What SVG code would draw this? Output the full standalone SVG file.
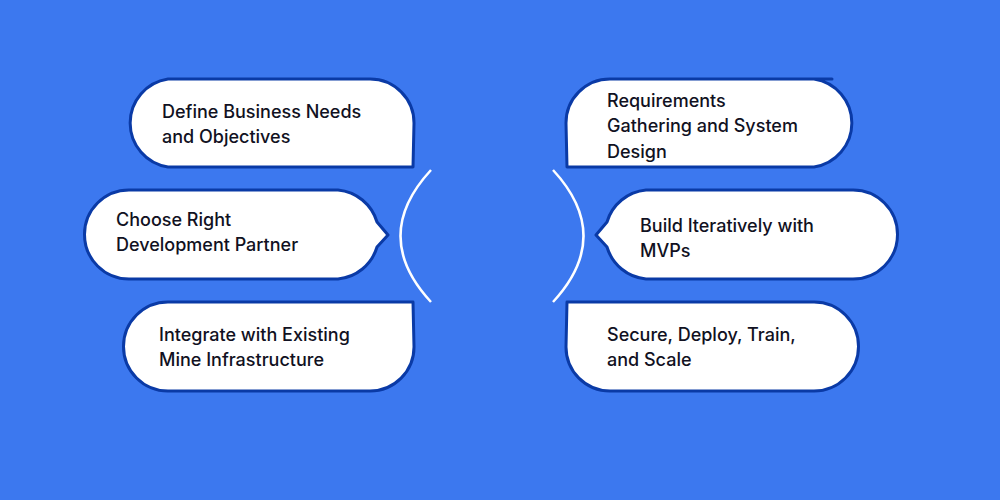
<svg xmlns="http://www.w3.org/2000/svg" width="1000" height="500" viewBox="0 0 1000 500">
<style>
.b{fill:#fff;stroke:#0a3aa6;stroke-width:3;stroke-linejoin:round}
.t{font-family:Inter,"Noto Sans",sans-serif;font-size:18px;font-weight:500;fill:#111122}
.arc{fill:none;stroke:#fff;stroke-width:2.5}
</style>
<rect width="1000" height="500" fill="#3c78ef"/>
<g id="connectors">
<path class="arc" d="M431,170 Q370,236 431,302"/>
<path class="arc" d="M553,170 Q614,236 553,302"/>
</g>
<g id="n1"><path class="b" d="M168,79 H370 A44,44 0 0 1 414,123 L413,167 H168 A44.5,44.5 0 0 1 168,79 Z"/>
<text class="t" x="162" y="118">Define Business Needs</text><text class="t" x="162" y="143">and Objectives</text></g>
<g id="n2"><path class="b" d="M129,190 H338 A45,45 0 0 1 377,222 L388,235 L377,247 A45,45 0 0 1 338,279 H129 A44.5,44.5 0 0 1 129,190 Z"/>
<text class="t" x="116" y="226">Choose Right</text><text class="t" x="116" y="251">Development Partner</text></g>
<g id="n3"><path class="b" d="M168,302 H413 L414,347 A44,44 0 0 1 370,391 H168 A44.5,44.5 0 0 1 168,302 Z"/>
<text class="t" x="159" y="341">Integrate with Existing</text><text class="t" x="159" y="366">Mine Infrastructure</text></g>
<g id="n4"><path class="b" d="M832,79 H610 A44,44 0 0 0 566,123 L567,167 H814 A44.5,44.5 0 0 0 814,79 Z"/>
<text class="t" x="607" y="107">Requirements</text><text class="t" x="607" y="132">Gathering and System</text><text class="t" x="607" y="158">Design</text></g>
<g id="n5"><path class="b" d="M853,190 H646 A45,45 0 0 0 607,222 L596,235 L607,247 A45,45 0 0 0 646,279 H853 A44.5,44.5 0 0 0 853,190 Z"/>
<text class="t" x="640" y="232">Build Iteratively with</text><text class="t" x="640" y="257">MVPs</text></g>
<g id="n6"><path class="b" d="M814,302 H567 L566,347 A44,44 0 0 0 610,391 H814 A44.5,44.5 0 0 0 814,302 Z"/>
<text class="t" x="607" y="341">Secure, Deploy, Train,</text><text class="t" x="607" y="366">and Scale</text></g>
</svg>
